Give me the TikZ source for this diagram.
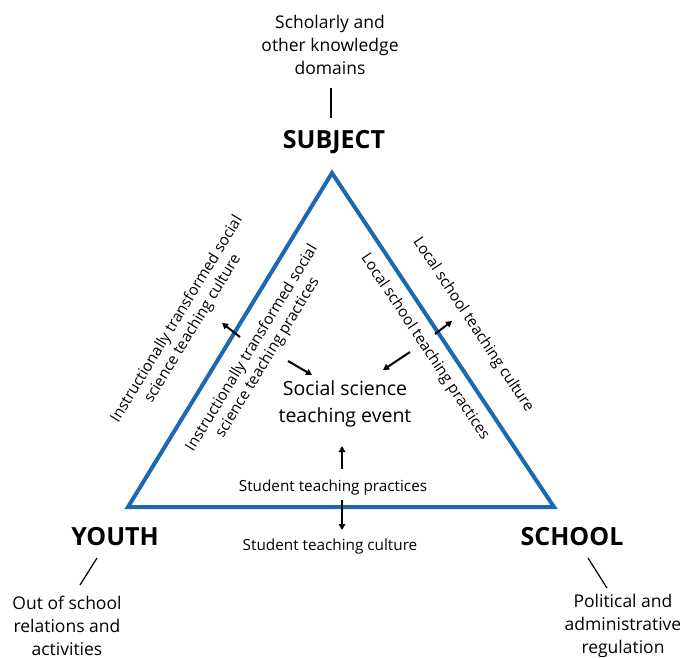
\documentclass[tikz,border=0pt]{standalone}
\usepackage{fontspec}
\setmainfont{Open Sans}
\usetikzlibrary{arrows.meta}
\definecolor{triblue}{RGB}{28,104,178}
\begin{document}
\begin{tikzpicture}[x=1pt,y=-1pt,
  lbl/.style={font=\fontsize{17.5}{22.8}\selectfont, align=center, inner sep=0pt},
  corner/.style={font=\fontsize{25}{28}\selectfont\bfseries, inner sep=0pt},
  diag/.style={font=\fontsize{15.3}{18.5}\selectfont, align=center, inner sep=0pt},
  ctr/.style={font=\fontsize{19.5}{27}\selectfont, align=center, inner sep=0pt},
  arr/.style={line width=2pt, -{Triangle[length=6pt,width=6.5pt]}},
  tick/.style={line width=1.2pt},
  tri/.style={draw=triblue, line width=4pt, line join=miter}]
\useasboundingbox (0,0) rectangle (680,657);
\fill[white] (0,0) rectangle (680,657);
% triangle
\coordinate (apex) at (332,173);
\coordinate (yl) at (128,507);
\coordinate (sr) at (554,507);
\draw[tri] (apex) -- (sr) -- (yl) -- cycle;
% corner labels
\node[corner] (subject) at (334,142) {SUBJECT};
\node[corner] (youth) at (115,537) {YOUTH};
\node[corner] (school) at (572,537) {SCHOOL};
% outer descriptions
\node[lbl] (scholar) at (330,45) {Scholarly and\\other knowledge\\domains};
\node[lbl] (outof) at (67,626) {Out of school\\relations and\\activities};
\node[lbl] (polit) at (623,626) {Political and\\administrative\\regulation};
\coordinate (t1a) at (331,88);
\coordinate (t1b) at (331,118);
\coordinate (t2a) at (97,558);
\coordinate (t2b) at (80,585);
\coordinate (t3a) at (588,558);
\coordinate (t3b) at (607,588);
\draw[tick] (t1a) -- (t1b);
\draw[tick] (t2a) -- (t2b);
\draw[tick] (t3a) -- (t3b);
% centre
\node[ctr] (event) at (345,404) {Social science\\teaching event};
% diagonal texts
\node[diag, rotate=58.6] (itcult) at (185,324) {Instructionally transformed social\\science teaching culture};
\node[diag, rotate=58.6] (itprac) at (260,353) {Instructionally transformed social\\science teaching practices};
\node[diag, rotate=-56.4] (lscult) at (473,325) {Local school teaching culture};
\node[diag, rotate=-56.4] (lsprac) at (425,347) {Local school teaching practices};
\node[diag] (stprac) at (333,488) {Student teaching practices};
\node[diag] (stcult) at (330,547) {Student teaching culture};
% arrows
\coordinate (a1s) at (240,337); \coordinate (a1e) at (222,323);
\coordinate (a2s) at (288,361); \coordinate (a2e) at (312,375);
\coordinate (a3s) at (435,334); \coordinate (a3e) at (452,321);
\coordinate (a4s) at (410,352); \coordinate (a4e) at (383,370);
\coordinate (a5s) at (342,469); \coordinate (a5e) at (342,446);
\coordinate (a6s) at (342,500); \coordinate (a6e) at (342,530);
\draw[arr] (a1s) -- (a1e);
\draw[arr] (a2s) -- (a2e);
\draw[arr] (a3s) -- (a3e);
\draw[arr] (a4s) -- (a4e);
\draw[arr] (a5s) -- (a5e);
\draw[arr] (a6s) -- (a6e);
\end{tikzpicture}
\end{document}
